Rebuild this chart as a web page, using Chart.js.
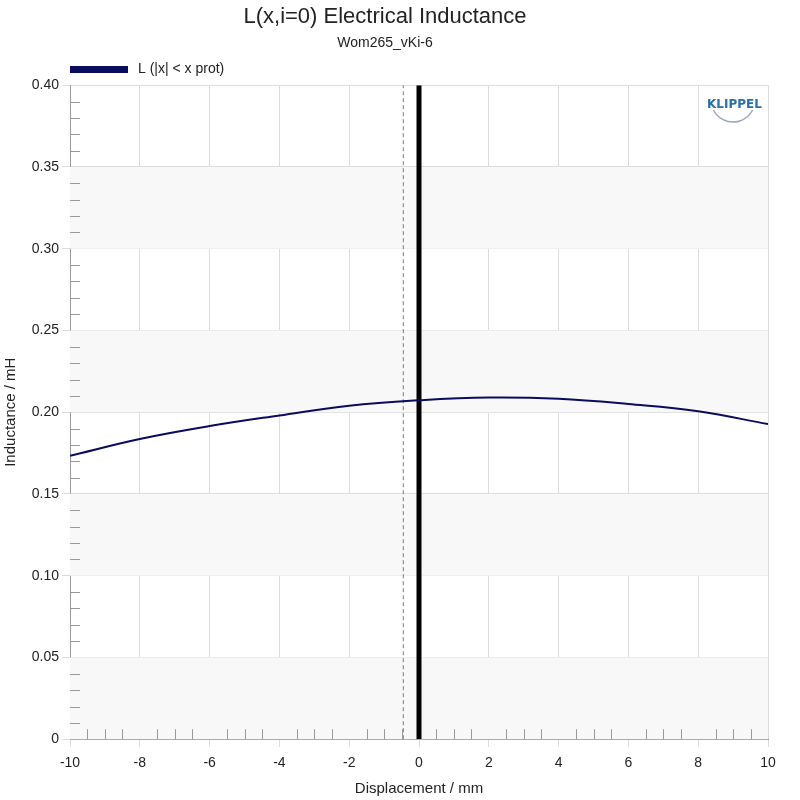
<!DOCTYPE html>
<html><head><meta charset="utf-8">
<script src="https://cdn.jsdelivr.net/npm/chart.js@4"></script>
<style>body{margin:0;background:#fff}#wrap{width:800px;height:800px;position:relative}</style>
</head><body><div id="wrap"><canvas id="c" width="800" height="800"></canvas></div>
<script>
// values
const xs = [-10, -8, -6, -4, -2, 0, 2, 4, 6, 8, 10];
const inductance = [0.1733, 0.1836, 0.1915, 0.1980, 0.2040, 0.2073, 0.2090, 0.2082, 0.2050, 0.2006, 0.1927];
const xProtLine = -0.45;
const yTicks = [0, 0.05, 0.10, 0.15, 0.20, 0.25, 0.30, 0.35, 0.40];
const FONT = "Arial, 'Liberation Sans'";

const extras = {
  id: "extras",
  beforeDatasetsDraw(ch) {
    const {ctx, chartArea: a, scales: {y}} = ch;
    ctx.save();
    ctx.fillStyle = "#f8f8f8";
    for (let v = 0; v < 0.4; v += 0.1) {
      const t = y.getPixelForValue(v + 0.05), b = y.getPixelForValue(v);
      ctx.fillRect(a.left, t, a.right - a.left, b - t);
    }
    ctx.restore();
  },
  afterDraw(ch) {
    const {ctx, chartArea: a, scales: {x, y}} = ch;
    ctx.save();
    ctx.strokeStyle = "#999"; ctx.lineWidth = 1;
    for (let i = 0; i <= 40; i++) {
      if (i % 5 === 0) continue;
      const py = Math.round(y.getPixelForValue(i * 0.01)) + 0.5;
      ctx.beginPath(); ctx.moveTo(a.left, py); ctx.lineTo(a.left + 10, py); ctx.stroke();
    }
    for (let i = -20; i <= 20; i++) {
      if (i % 4 === 0) continue;
      const px = Math.round(x.getPixelForValue(i * 0.5)) + 0.5;
      ctx.beginPath(); ctx.moveTo(px, a.bottom); ctx.lineTo(px, a.bottom - 10); ctx.stroke();
    }
    // legend
    const ds = ch.data.datasets[0];
    ctx.fillStyle = ds.borderColor;
    ctx.fillRect(a.left, 66, 58, 7);
    ctx.fillStyle = "#222"; ctx.font = "14px " + FONT; ctx.textBaseline = "middle";
    ctx.fillText(ds.label, a.left + 68, 69);
    // logo
    ctx.fillStyle = "#2a6fa6"; ctx.font = "bold 12px 'DejaVu Sans'"; ctx.textBaseline = "alphabetic";
    ctx.fillText("KLIPPEL", 707, 108);
    ctx.strokeStyle = "#9aa8b8"; ctx.lineWidth = 1.5;
    ctx.beginPath(); ctx.arc(733, 100, 22, 0.15 * Math.PI, 0.85 * Math.PI); ctx.stroke();
    ctx.restore();
  }
};

new Chart(document.getElementById("c"), {
  type: "line",
  data: {
    datasets: [
      {label: "L (|x| < x prot)", data: xs.map((v, i) => ({x: v, y: inductance[i]})),
       borderColor: "#0b0b5e", backgroundColor: "#0b0b5e", borderWidth: 2, pointRadius: 0, tension: 0.4},
      {label: "xprot", data: [{x: xProtLine, y: 0}, {x: xProtLine, y: 0.4}],
       borderColor: "#777", borderWidth: 1, borderDash: [4, 3], pointRadius: 0},
      {label: "zero", data: [{x: 0, y: 0}, {x: 0, y: 0.4}],
       borderColor: "#000", borderWidth: 5, pointRadius: 0}
    ]
  },
  options: {
    responsive: false, animation: false,
    layout: {padding: {left: 2, right: 32, top: 0, bottom: 2}},
    plugins: {
      title: {display: true, text: "L(x,i=0) Electrical Inductance", color: "#222",
        font: {family: FONT, size: 22, weight: "normal"}, padding: {top: 4, bottom: 4}},
      subtitle: {display: true, text: "Wom265_vKi-6", color: "#222",
        font: {family: FONT, size: 14}, padding: {bottom: 34}},
      legend: {display: false},
      tooltip: {enabled: false}
    },
    scales: {
      x: {type: "linear", min: -10, max: 10,
        ticks: {stepSize: 2, padding: 8, color: "#222", font: {family: FONT, size: 14}},
        grid: {color: "#dcdcdc", tickLength: 8},
        border: {color: "#999"},
        title: {display: true, text: "Displacement / mm", color: "#222", font: {family: FONT, size: 15}, padding: 0}},
      y: {min: 0, max: 0.4,
        afterBuildTicks: s => { s.ticks = yTicks.map(v => ({value: v})); },
        afterFit: s => { s.width = 68; },
        ticks: {color: "#222", font: {family: FONT, size: 14},
          callback: v => v === 0 ? "0" : v.toFixed(2)},
        grid: {color: "#dcdcdc", tickLength: 8},
        border: {color: "#999"},
        title: {display: true, text: "Inductance / mH", color: "#222", font: {family: FONT, size: 15}, padding: 0}}
    }
  },
  plugins: [extras]
});
</script></body></html>
